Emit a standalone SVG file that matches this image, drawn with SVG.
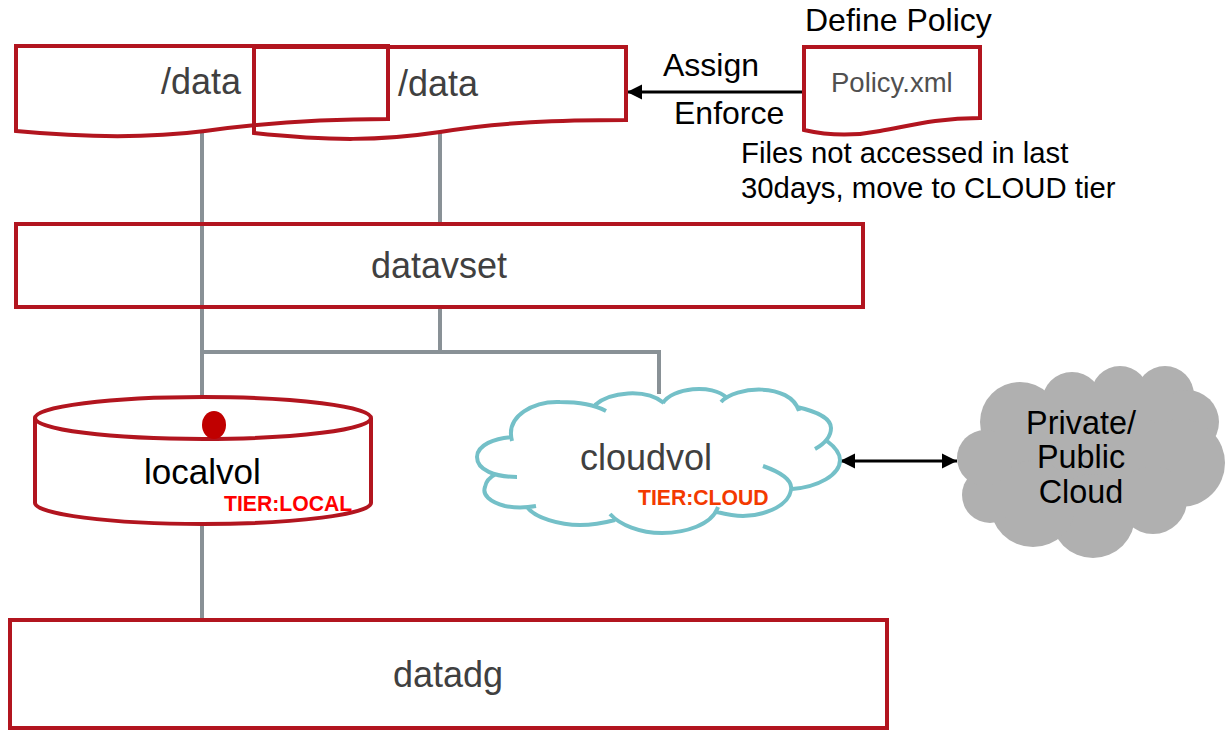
<svg xmlns="http://www.w3.org/2000/svg" width="1227" height="730" viewBox="0 0 1227 730">
<style>
.t{font-family:"Liberation Sans",Arial,sans-serif}
.r{fill:#fff;stroke:#b2151f;stroke-width:4}
.rn{fill:none;stroke:#b2151f;stroke-width:4}
.c{fill:none;stroke:#899196;stroke-width:4}
.tl{fill:#404040;font-size:36px}
.bk{fill:#000;font-size:32px}
.fl{fill:#000;font-size:29.300px}
.cl{fill:none;stroke:#74c0c8;stroke-width:4}
.g{fill:#b0b0b0}
.pc{fill:#000;font-size:32.400px;text-anchor:middle}
</style>
<defs>
<marker id="a" markerUnits="userSpaceOnUse" markerWidth="16" markerHeight="16" refX="15" refY="8" orient="auto-start-reverse"><path d="M0 0.500L15 8L0 15.500Z" fill="#000"/></marker>
</defs>
<rect width="1227" height="730" fill="#fff"/>
<g id="connectors">
<path class="c" d="M202 130V397M440 133V224M440 307V352M202 352H659V394M202 524V620"/>
<path d="M804 92H627" stroke="#000" stroke-width="3" fill="none" marker-end="url(#a)"/>
<path d="M840 461H957" stroke="#000" stroke-width="3" fill="none" marker-start="url(#a)" marker-end="url(#a)"/>
</g>
<g id="data1">
<path class="r" d="M16 46H388V119C325 119 270 122 205 131C150 138 90 138 16 131Z"/>
<text class="t tl" x="161" y="94">/data</text>
</g>
<g id="data2">
<path class="rn" d="M254 47H626V120C560 120 500 122 440 132C380 141 330 141 254 133Z"/>
<path class="rn" d="M254 47V133M388 46V119"/>
<text class="t tl" x="398" y="96">/data</text>
</g>
<g id="policy">
<path class="r" d="M804 47H980V118C935 118 905 127 880 131C855 136 830 136 804 130Z"/>
<text class="t" x="831" y="92" font-size="27.500" fill="#505050">Policy.xml</text>
<text class="t bk" x="805" y="31">Define Policy</text>
</g>
<g id="labels">
<text class="t bk" x="663" y="76">Assign</text>
<text class="t bk" x="674" y="124">Enforce</text>
<text class="t fl" x="741" y="163">Files not accessed in last</text>
<text class="t fl" x="741" y="198">30days, move to CLOUD tier</text>
</g>
<g id="datavset">
<rect class="rn" x="16" y="224" width="847" height="83"/>
<text class="t tl" x="371" y="278">datavset</text>
</g>
<g id="localvol">
<path class="r" d="M35 418V503C35 514 110 524 203 524C296 524 371 514 371 503V418"/>
<ellipse class="r" cx="203" cy="418" rx="168" ry="21"/>
<ellipse cx="214" cy="425" rx="12" ry="14" fill="#c00000"/>
<text class="t" x="144" y="484" font-size="35" fill="#000">localvol</text>
<text class="t" x="224" y="511" font-size="21.200" font-weight="700" fill="#f00">TIER:LOCAL</text>
</g>
<g id="cloudvol">
<path class="cl" d="M512 441C505 415 535 401 560 402C580 402 595 405 606 411M595 405C610 392 645 388 664 403M663 403C672 388 712 383 727 398M721 402C735 386 790 382 799 411M797 407C815 411 831 418 831 428C831 437 824 444 815 449M827 441C835 447 840 453 840 460C840 475 818 487 792 489M763 466C780 472 793 480 791 490C788 508 760 516 743 516C733 516 725 514 717 512M718 507C712 525 685 533 662 533C640 533 620 525 610 514M615 520C600 524 590 525 580 525C560 525 535 518 527 507M536 506C525 508 515 508 505 506C490 502 482 495 485 487C486 481 490 477 496 474M517 477C495 477 477 470 477 457C477 445 495 438 512 437"/>
<text class="t tl" x="580" y="470">cloudvol</text>
<text class="t" x="638" y="505" font-size="21.200" font-weight="700" fill="#f33a00">TIER:CLOUD</text>
</g>
<g id="privatecloud">
<path class="g" d="M1000 410L1072 385L1165 380L1195 440L1180 500L1093 530L1000 510L975 460Z"/>
<circle class="g" cx="1020" cy="422" r="40"/>
<circle class="g" cx="1072" cy="402" r="30"/>
<circle class="g" cx="1120" cy="395" r="29"/>
<circle class="g" cx="1165" cy="395" r="29"/>
<circle class="g" cx="1187" cy="422" r="32"/>
<circle class="g" cx="1181" cy="463" r="44"/>
<circle class="g" cx="1153" cy="500" r="34"/>
<circle class="g" cx="1093" cy="516" r="42"/>
<circle class="g" cx="1033" cy="504" r="43"/>
<circle class="g" cx="990" cy="495" r="28"/>
<circle class="g" cx="985" cy="458" r="28"/>
<text class="t pc" x="1081" y="434">Private/</text>
<text class="t pc" x="1081" y="468">Public</text>
<text class="t pc" x="1081" y="503">Cloud</text>
</g>
<g id="datadg">
<rect class="r" x="10" y="620" width="877" height="108"/>
<text class="t tl" x="393" y="687">datadg</text>
</g>
</svg>
